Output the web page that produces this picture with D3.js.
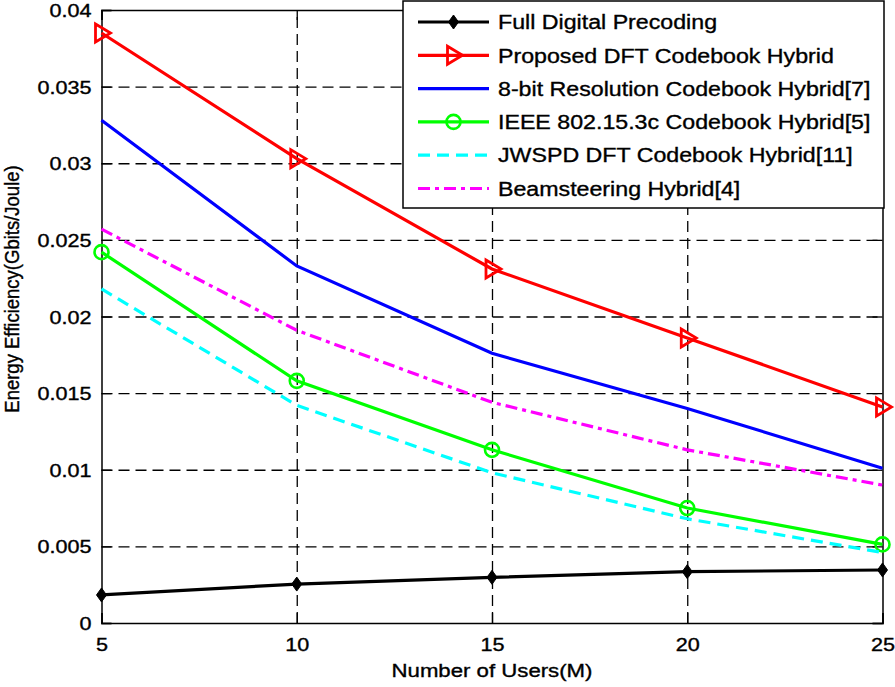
<!DOCTYPE html>
<html>
<head>
<meta charset="utf-8">
<script src="https://cdn.jsdelivr.net/npm/d3@7"></script>
<style>
  html, body { margin: 0; padding: 0; background: #fff; }
  svg { display: block; font-family: "Liberation Sans", Arial, Helvetica, sans-serif; }
</style>
</head>
<body>
<svg id="chart" width="895" height="687"></svg>
<script>
// ---------- data ----------
const users = [5, 10, 15, 20, 25];
const fullDigital = [0.00183, 0.00254, 0.00298, 0.00335, 0.00346];
const proposedDFT = [0.0385, 0.0303, 0.0231, 0.0186, 0.0141];
const eightBit    = [0.0328, 0.0233, 0.0176, 0.0140, 0.0101];
const ieee        = [0.0242, 0.0158, 0.0113, 0.0075, 0.00513];
const jwspd       = [0.0218, 0.0142, 0.0098, 0.0068, 0.0046];
const beamsteer   = [0.0257, 0.0191, 0.0144, 0.0113, 0.0090];
const seriesNames = [
  "Full Digital Precoding",
  "Proposed DFT Codebook Hybrid",
  "8-bit Resolution Codebook Hybrid[7]",
  "IEEE 802.15.3c Codebook Hybrid[5]",
  "JWSPD DFT Codebook Hybrid[11]",
  "Beamsteering Hybrid[4]"
];
const xTicks = [5, 10, 15, 20, 25];
const yTicks = [0, 0.005, 0.01, 0.015, 0.02, 0.025, 0.03, 0.035, 0.04];
const yTickLabels = ["0", "0.005", "0.01", "0.015", "0.02", "0.025", "0.03", "0.035", "0.04"];
const xLabel = "Number of Users(M)";
const yLabel = "Energy Efficiency(Gbits/Joule)";

// ---------- styles ----------
const styles = [
  { color: "#000000", dash: null, marker: "diamond" },
  { color: "#ff0000", dash: null, marker: "triangle" },
  { color: "#0000ff", dash: null, marker: null },
  { color: "#00ff00", dash: null, marker: "circle" },
  { color: "#00ffff", dash: "12,7", marker: null },
  { color: "#ff00ff", dash: "12,5,4,5", marker: null }
];
const allSeries = [fullDigital, proposedDFT, eightBit, ieee, jwspd, beamsteer];

const svg = d3.select("#chart");
const L = 101.5, T = 10, R = 882.5, B = 623;
const x = d3.scaleLinear().domain([5, 25]).range([L, R]);
const y = d3.scaleLinear().domain([0, 0.04]).range([B, T]);
const SX = 1.2; // horizontal glyph stretch
const TXT_STROKE = 0.35;

// grid
const gridG = svg.append("g");
gridG.append("g").attr("transform", `translate(0,${B})`)
  .call(d3.axisBottom(x).tickValues(xTicks.slice(1, -1)).tickSize(-(B - T)).tickFormat(""))
  .call(g => g.select(".domain").remove())
  .selectAll("line").attr("stroke", "#000").attr("stroke-width", 1.3).attr("stroke-dasharray", "11,6");
gridG.append("g").attr("transform", `translate(${L},0)`)
  .call(d3.axisLeft(y).tickValues(yTicks.slice(1, -1)).tickSize(-(R - L)).tickFormat(""))
  .call(g => g.select(".domain").remove())
  .selectAll("line").attr("stroke", "#000").attr("stroke-width", 1.3).attr("stroke-dasharray", "11,6");

// axes box with inward ticks
const fmtY = d => yTickLabels[yTicks.indexOf(d)];
const yAxisG = svg.append("g").attr("transform", `translate(${L},0)`)
  .call(d3.axisLeft(y).tickValues(yTicks).tickSize(-10).tickPadding(10).tickFormat(fmtY));
const xAxisG = svg.append("g").attr("transform", `translate(0,${B})`)
  .call(d3.axisBottom(x).tickValues(xTicks).tickSize(-10).tickPadding(10).tickFormat(d3.format("d")));
const yAxisR = svg.append("g").attr("transform", `translate(${R},0)`)
  .call(d3.axisRight(y).tickValues(yTicks).tickSize(-10).tickFormat(""));
const xAxisT = svg.append("g").attr("transform", `translate(0,${T})`)
  .call(d3.axisTop(x).tickValues(xTicks).tickSize(-10).tickFormat(""));
[yAxisG, xAxisG, yAxisR, xAxisT].forEach(g => {
  g.selectAll("path.domain").attr("stroke", "#000").attr("stroke-width", 1.5);
  g.selectAll(".tick line").attr("stroke", "#000").attr("stroke-width", 1.3);
});
yAxisG.selectAll(".tick text")
  .attr("x", null).attr("dy", null)
  .attr("font-size", 18).attr("fill", "#000").attr("font-family", "Liberation Sans, Arial, sans-serif")
  .attr("stroke", "#000").attr("stroke-width", TXT_STROKE)
  .attr("text-anchor", "end")
  .attr("transform", "translate(-10,6.5) scale(" + SX + ",1)");
xAxisG.selectAll(".tick text")
  .attr("y", null).attr("dy", null)
  .attr("font-size", 18).attr("fill", "#000").attr("font-family", "Liberation Sans, Arial, sans-serif")
  .attr("stroke", "#000").attr("stroke-width", TXT_STROKE)
  .attr("text-anchor", "middle")
  .attr("transform", "translate(0,27.5) scale(" + SX + ",1)");

// series
const line = d3.line().x((d, i) => x(users[i])).y(d => y(d));
const markerPath = {
  diamond: "M0,-7L5,0L0,7L-5,0Z",
  triangle: "M-6,-9L9,0L-6,9Z"
};
function drawMarker(g, type, cx, cy, color) {
  if (type === "circle") {
    g.append("circle").attr("cx", cx).attr("cy", cy).attr("r", 7)
      .attr("fill", "none").attr("stroke", color).attr("stroke-width", 2.6);
  } else if (type === "diamond") {
    g.append("path").attr("d", markerPath.diamond).attr("transform", `translate(${cx},${cy})`)
      .attr("fill", color).attr("stroke", color).attr("stroke-width", 1);
  } else if (type === "triangle") {
    g.append("path").attr("d", markerPath.triangle).attr("transform", `translate(${cx},${cy})`)
      .attr("fill", "none").attr("stroke", color).attr("stroke-width", 2.8);
  }
}
const seriesG = svg.append("g");
allSeries.forEach((vals, k) => {
  const st = styles[k];
  seriesG.append("path").datum(vals).attr("d", line)
    .attr("fill", "none").attr("stroke", st.color).attr("stroke-width", 3.2)
    .attr("stroke-dasharray", st.dash);
  if (st.marker) vals.forEach((v, i) => drawMarker(seriesG, st.marker, x(users[i]), y(v), st.color));
});

// axis labels
svg.append("text").attr("font-size", 18.5).attr("text-anchor", "middle")
  .attr("stroke", "#000").attr("stroke-width", TXT_STROKE)
  .attr("transform", `translate(${(L + R) / 2},676.5) scale(${SX},1)`).text(xLabel);
svg.append("text").attr("font-size", 18.5).attr("text-anchor", "middle")
  .attr("stroke", "#000").attr("stroke-width", TXT_STROKE)
  .attr("transform", `translate(19,289) rotate(-90) scale(1,1.08)`).text(yLabel);

// legend
const lg = svg.append("g");
lg.append("rect").attr("x", 403).attr("y", 1).attr("width", 481).attr("height", 207)
  .attr("fill", "#fff").attr("stroke", "#000").attr("stroke-width", 1.5);
seriesNames.forEach((name, k) => {
  const st = styles[k];
  const cy = 22 + k * 33.3;
  lg.append("line").attr("x1", 418).attr("x2", 489).attr("y1", cy).attr("y2", cy)
    .attr("stroke", st.color).attr("stroke-width", 3.2).attr("stroke-dasharray", st.dash);
  if (st.marker) drawMarker(lg, st.marker, 453.5, cy, st.color);
  lg.append("text").attr("font-size", 20)
    .attr("stroke", "#000").attr("stroke-width", TXT_STROKE)
    .attr("transform", `translate(498,${cy + 7.2}) scale(1.16,1)`).text(name);
});
</script>
</body>
</html>
